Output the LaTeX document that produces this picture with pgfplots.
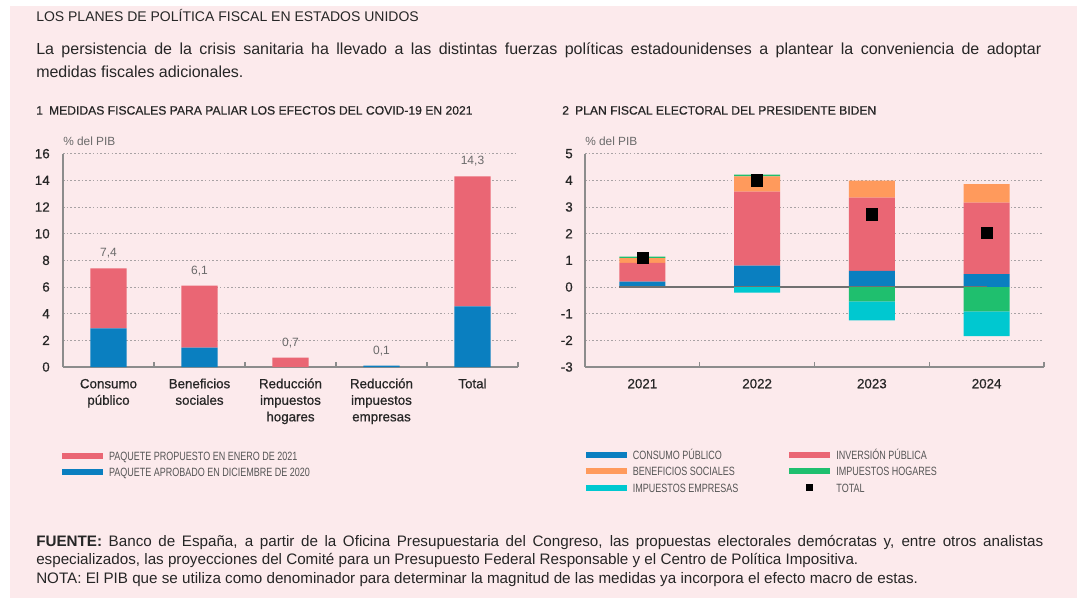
\documentclass[border=0pt]{standalone}
\usepackage{pgfplots}
\usepackage{pgfplotstable}
\pgfplotsset{compat=1.18}
\usepackage{fontspec}
\setmainfont{Liberation Sans}
\newfontfamily\narrowfont[FakeStretch=0.75]{Liberation Sans}
\newfontfamily\medfont[FakeBold=0.6]{Liberation Sans}

\definecolor{bgpink}{HTML}{FCEAEC}
\definecolor{cred}{HTML}{EA6674}
\definecolor{cblue}{HTML}{0A7FC0}
\definecolor{corange}{HTML}{FF9A5C}
\definecolor{cgreen}{HTML}{1FBF6E}
\definecolor{ccyan}{HTML}{00C8D0}
\definecolor{txt}{HTML}{262626}
\definecolor{gridc}{HTML}{A8A2A4}
\definecolor{axc}{HTML}{8C8C8C}
\definecolor{valtxt}{HTML}{6A6A6A}
\definecolor{legtxt}{HTML}{555555}
\definecolor{zeroc}{HTML}{707070}

\pgfplotstableread{
x b r tot lab
0 2.9 4.5 7.4 7,4
1 1.45 4.65 6.1 6,1
2 0 0.7 0.7 0,7
3 0.1 0 0.1 0,1
4 4.55 9.75 14.3 14,3
}\leftdata

\pgfplotstableread{
x blue red orange green
0 0.20 0.70 0.18 0.06
1 0.80 2.78 0.57 0.06
2 0.60 2.75 0.64 0.00
3 0.48 2.68 0.70 0.00
}\rightpos

\pgfplotstableread{
x green cyan
0 0.00 0.00
1 0.00 -0.21
2 -0.54 -0.71
3 -0.91 -0.93
}\rightneg

\pgfplotstableread{
x total
0 1.10
1 4.00
2 2.73
3 2.02
}\righttot

\pgfplotsset{
 common/.style={
  scale only axis, height=160pt,
  axis x line*=bottom, axis y line*=left,
  axis line style={axc, line width=1.1pt},
  ymajorgrids, grid style={gridc, dash pattern=on 1.2pt off 1.6pt, line width=0.6pt},
  major tick length=0pt, minor tick length=3.5pt, tick align=inside,
  minor tick style={axc, line width=0.8pt},
  tick label style={font=\medfont\fontsize{10}{12.4}\selectfont, text=txt},
  /pgf/number format/assume math mode=true,
  xticklabel style={align=center, yshift=-3.74pt},
  clip=false,
 },
 swatch/.style={legend image code/.code={\fill[##1] (0pt,-2.25pt) rectangle (30.75pt,2.25pt); \path (35.25pt,0pt);}},
 mylegend/.style={legend style={draw=none, fill=none, inner sep=0pt, outer sep=0pt, row sep=5.8pt, anchor=north west,
   nodes={inner sep=0pt, text height=6.5pt, text depth=0pt, font=\narrowfont\fontsize{9}{10}\selectfont, text=legtxt}},
   legend cell align=left},
}

\begin{document}
\begin{tikzpicture}[x=0.75pt,y=-0.75pt]
\path[use as bounding box] (0,0) rectangle (1082,598);
\fill[white] (0,0) rectangle (1082,598);
\fill[bgpink] (10,6) rectangle (1077,598);

\node[anchor=base west, inner sep=0pt, font=\fontsize{10.5}{12}\selectfont, text=txt] at (36,21.7) {LOS PLANES DE POLÍTICA FISCAL EN ESTADOS UNIDOS};
\node[anchor=base west, inner sep=0pt, font=\fontsize{12}{17}\selectfont, text=txt] at (36,55) {\makebox[753.75pt][s]{La persistencia de la crisis sanitaria ha llevado a las distintas fuerzas políticas estadounidenses a plantear la conveniencia de adoptar}};
\node[anchor=base west, inner sep=0pt, font=\fontsize{12}{17}\selectfont, text=txt] at (36,78) {medidas fiscales adicionales.};

\node[anchor=base west, inner sep=0pt, font=\medfont\fontsize{9.1}{10}\selectfont, text=txt] at (36,114.6) {1\hspace{0.5em}MEDIDAS FISCALES PARA PALIAR LOS EFECTOS DEL COVID-19 EN 2021};
\node[anchor=base west, inner sep=0pt, font=\medfont\fontsize{9.1}{10}\selectfont, text=txt] at (562,114.6) {2\hspace{0.5em}PLAN FISCAL ELECTORAL DEL PRESIDENTE BIDEN};

\node[anchor=base west, inner sep=0pt, font=\fontsize{8.9}{10}\selectfont, text=valtxt] at (63,145.7) {\% del PIB};
\node[anchor=base west, inner sep=0pt, font=\fontsize{8.9}{10}\selectfont, text=valtxt] at (585,145.7) {\% del PIB};

% Left chart
\begin{axis}[common, at={(47.25pt,-275.25pt)}, anchor=south west, width=341.25pt,
  ybar stacked, bar width=0.4,
  xmin=-0.5, xmax=4.5, ymin=0, ymax=16, ytick={0,2,...,16},
  yticklabel style={xshift=-6.42pt},
  xtick={0,...,4},
  xticklabels={{\strut Consumo\\público},{\strut Beneficios\\sociales},{\strut Reducción\\impuestos\\hogares},{\strut Reducción\\impuestos\\empresas},{\strut Total}},
  minor xtick={0.5,1.5,2.5,3.5,4.5},
  mylegend, legend style={at={(-0.002,-0.396)}}, reverse legend]
\addplot[fill=cblue, draw=none, swatch] table[x=x, y=b] {\leftdata};
\addlegendentry{PAQUETE APROBADO EN DICIEMBRE DE 2020}
\addplot[fill=cred, draw=none, swatch] table[x=x, y=r] {\leftdata};
\addlegendentry{PAQUETE PROPUESTO EN ENERO DE 2021}
\end{axis}

% Left chart, total labels (overlay, not stacked)
\begin{axis}[scale only axis, height=160pt, at={(47.25pt,-275.25pt)}, anchor=south west, width=341.25pt,
  hide axis, clip=false, xmin=-0.5, xmax=4.5, ymin=0, ymax=16]
\addplot[draw=none, mark=none, point meta=explicit symbolic,
  nodes near coords={\pgfplotspointmeta},
  nodes near coords style={font=\fontsize{9}{10}\selectfont, text=valtxt, inner sep=0pt, anchor=south, yshift=7.2pt}]
  table[x=x, y=tot, meta=lab] {\leftdata};
\end{axis}

% Right chart, positive contributions
\begin{axis}[common, at={(438.75pt,-275.25pt)}, anchor=south west, width=344.25pt,
  ybar stacked, bar width=0.4,
  xmin=-0.5, xmax=3.5, ymin=-3, ymax=5, ytick={-3,...,5},
  yticklabel style={xshift=-5.67pt},
  xtick={0,...,3},
  xticklabels={{\strut 2021},{\strut 2022},{\strut 2023},{\strut 2024}},
  minor xtick={0.5,1.5,2.5,3.5}]
\addplot[fill=cblue, draw=none] table[x=x, y=blue] {\rightpos};
\addplot[fill=cred, draw=none] table[x=x, y=red] {\rightpos};
\addplot[fill=corange, draw=none] table[x=x, y=orange] {\rightpos};
\addplot[fill=cgreen, draw=none] table[x=x, y=green] {\rightpos};
\end{axis}

% Right chart, negative contributions, zero line, total, legend
\begin{axis}[scale only axis, height=160pt, at={(438.75pt,-275.25pt)}, anchor=south west, width=344.25pt,
  hide axis, clip=false,
  ybar stacked, bar width=0.4,
  xmin=-0.5, xmax=3.5, ymin=-3, ymax=5,
  mylegend, legend style={at={(0.002,-0.392)}}, legend columns=2]
\addlegendimage{fill=cblue, draw=none, swatch}
\addlegendentry{\makebox[117pt][l]{CONSUMO PÚBLICO}}
\addlegendimage{fill=cred, draw=none, swatch}
\addlegendentry{INVERSIÓN PÚBLICA}
\addlegendimage{fill=corange, draw=none, swatch}
\addlegendentry{\makebox[117pt][l]{BENEFICIOS SOCIALES}}
\addlegendimage{fill=cgreen, draw=none, swatch}
\addlegendentry{IMPUESTOS HOGARES}
\addlegendimage{fill=ccyan, draw=none, swatch}
\addlegendentry{\makebox[117pt][l]{IMPUESTOS EMPRESAS}}
\addlegendimage{legend image code/.code={\fill[black] (13.1pt,-2.25pt) rectangle (17.6pt,2.25pt); \path (0pt,0pt) (35.25pt,0pt);}}
\addlegendentry{TOTAL}
\addplot[fill=cgreen, draw=none, forget plot] table[x=x, y=green] {\rightneg};
\addplot[fill=ccyan, draw=none, forget plot] table[x=x, y=cyan] {\rightneg};
\addplot[sharp plot, stack plots=false, zeroc, line width=1.3pt, mark=none, forget plot] coordinates {(-0.2,0) (3,0)};
\addplot[sharp plot, stack plots=false, draw=none, mark=square*, mark size=4.2pt, mark options={fill=black, draw=none}, forget plot] table[x=x, y=total] {\righttot};
\end{axis}

\node[anchor=base west, inner sep=0pt, font=\fontsize{11.4}{14}\selectfont, text=txt] at (36,546) {\makebox[755.25pt][s]{\textbf{FUENTE:} Banco de España, a partir de la Oficina Presupuestaria del Congreso, las propuestas electorales demócratas y, entre otros analistas}};
\node[anchor=base west, inner sep=0pt, font=\fontsize{11.4}{14}\selectfont, text=txt] at (36,564.5) {especializados, las proyecciones del Comité para un Presupuesto Federal Responsable y el Centro de Política Impositiva.};
\node[anchor=base west, inner sep=0pt, font=\fontsize{11.4}{14}\selectfont, text=txt] at (36,583) {NOTA: El PIB que se utiliza como denominador para determinar la magnitud de las medidas ya incorpora el efecto macro de estas.};
\end{tikzpicture}
\end{document}
